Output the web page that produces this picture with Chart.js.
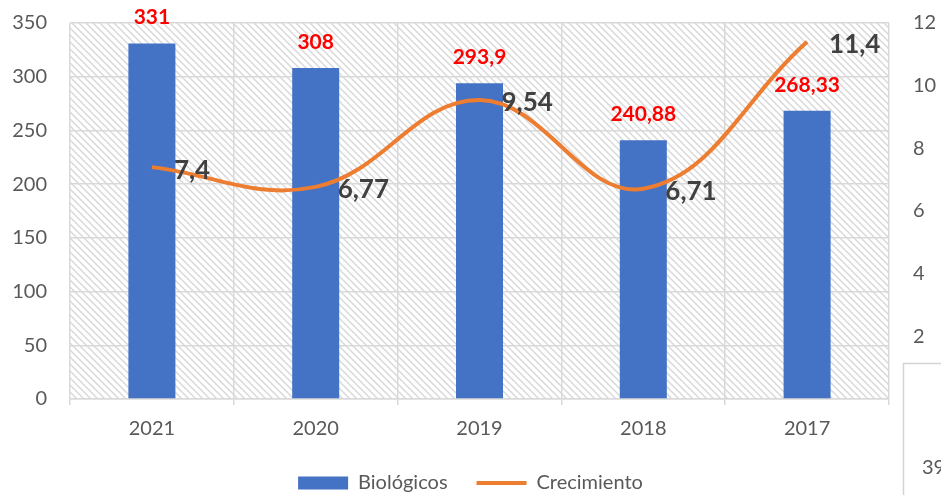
<!DOCTYPE html>
<html>
<head>
<meta charset="utf-8">
<script src="https://cdn.jsdelivr.net/npm/chart.js@4.4.1/dist/chart.umd.min.js"></script>
<style>
  html, body { margin: 0; padding: 0; background: #fff; }
  #wrap { width: 941px; height: 495px; position: relative; }
</style>
</head>
<body>
<div id="wrap"><canvas id="chart_biologicos"></canvas></div>
<script>
var years = ['2021', '2020', '2019', '2018', '2017'];
var biologicos = [331, 308, 293.9, 240.88, 268.33];
var crecimiento = [7.4, 6.77, 9.54, 6.71, 11.4];
var leftTicks = [0, 50, 100, 150, 200, 250, 300, 350];
var rightTicks = [0, 2, 4, 6, 8, 10, 12];

var gridGray = '#d9d9d9';
var textGray = '#595959';
var clear = 'rgba(0,0,0,0)';

function hatchPattern() {
  var s = 7;
  var c = document.createElement('canvas');
  c.width = s; c.height = s;
  var g = c.getContext('2d');
  g.fillStyle = '#ffffff';
  g.fillRect(0, 0, s, s);
  g.strokeStyle = '#d9d9d9';
  g.lineWidth = 1.5;
  g.beginPath();
  g.moveTo(-1, -1); g.lineTo(s + 1, s + 1);
  g.moveTo(s - 2, -2); g.lineTo(s + 2, 2);
  g.moveTo(-2, s - 2); g.lineTo(2, s + 2);
  g.stroke();
  return g.createPattern(c, 'repeat');
}

function fmt(v) {
  return String(v).replace('.', ',');
}

var chart_biologicos = new Chart(document.getElementById('chart_biologicos'), {
  type: 'bar',
  data: {
    labels: years,
    datasets: [
      {
        type: 'bar',
        label: 'Biológicos',
        data: biologicos,
        backgroundColor: '#4472c4',
        borderWidth: 0,
        yAxisID: 'y',
        order: 1,
        categoryPercentage: 1,
        barPercentage: 0.287
      },
      {
        type: 'line',
        label: 'Crecimiento',
        data: crecimiento,
        borderColor: '#ed7d31',
        backgroundColor: '#ed7d31',
        borderWidth: 4,
        tension: 0.4,
        pointRadius: 0,
        fill: false,
        yAxisID: 'y1',
        order: 0
      }
    ]
  },
  options: {
    animation: false,
    responsive: true,
    maintainAspectRatio: false,
    layout: { padding: { top: 23, left: 0, right: 0, bottom: -8 } },
    plugins: {
      tooltip: { enabled: false },
      legend: {
        position: 'bottom',
        labels: {
          color: textGray,
          font: { family: 'Lato', size: 20 },
          usePointStyle: true,
          pointStyleWidth: 50,
          boxHeight: 13,
          padding: 29,
          sort: function (a, b) { return a.datasetIndex - b.datasetIndex; },
          generateLabels: function (chart) {
            var items = Chart.defaults.plugins.legend.labels.generateLabels(chart);
            items.forEach(function (it) {
              if (it.datasetIndex === 0) {
                it.pointStyle = 'rect';
                it.lineWidth = 0;
                it.strokeStyle = clear;
              } else {
                it.pointStyle = 'line';
                it.lineWidth = 4;
                it.strokeStyle = '#ed7d31';
              }
            });
            return items;
          }
        }
      }
    },
    scales: {
      x: {
        offset: true,
        grid: { offset: true, color: gridGray, lineWidth: 1.5, tickLength: 6, drawTicks: true },
        border: { display: true, color: gridGray, width: 1.5 },
        ticks: { color: textGray, font: { family: 'Lato', size: 20 }, padding: 12 },
        afterFit: function (scale) { scale.height = 45; }
      },
      y: {
        position: 'left',
        min: 0,
        max: 350,
        afterBuildTicks: function (scale) {
          scale.ticks = leftTicks.map(function (v) { return { value: v }; });
        },
        grid: { color: gridGray, lineWidth: 1.5, drawTicks: true, tickLength: 21, tickColor: clear },
        border: { display: false },
        ticks: { color: textGray, font: { family: 'Lato', size: 20 }, padding: 2 },
        afterFit: function (scale) { scale.width = 70; }
      },
      y1: {
        position: 'right',
        min: 0,
        max: 12,
        afterBuildTicks: function (scale) {
          scale.ticks = rightTicks.map(function (v) { return { value: v }; });
        },
        grid: { display: true, drawOnChartArea: false, color: clear, tickColor: clear, drawTicks: true, tickLength: 22 },
        border: { display: false },
        ticks: { color: textGray, font: { family: 'Lato', size: 20 }, padding: 2 },
        afterFit: function (scale) { scale.width = 52; }
      }
    }
  },
  plugins: [{
    id: 'hatchArea',
    beforeDraw: function (chart) {
      var a = chart.chartArea;
      var ctx = chart.ctx;
      ctx.save();
      ctx.fillStyle = '#ffffff';
      ctx.fillRect(0, 0, chart.width, chart.height);
      ctx.fillStyle = hatchPattern();
      ctx.fillRect(a.left, a.top, a.right - a.left, a.bottom - a.top);
      ctx.restore();
    }
  }, {
    id: 'valueLabels',
    afterDatasetsDraw: function (chart) {
      var ctx = chart.ctx;
      ctx.save();
      var bars = chart.getDatasetMeta(0).data;
      ctx.font = 'bold 21px Lato';
      ctx.fillStyle = '#ff0000';
      ctx.textAlign = 'center';
      ctx.textBaseline = 'middle';
      bars.forEach(function (el, i) {
        ctx.fillText(fmt(biologicos[i]), el.x, el.y - 26);
      });
      var pts = chart.getDatasetMeta(1).data;
      ctx.font = 'bold 26px Lato';
      ctx.fillStyle = '#404040';
      ctx.textAlign = 'left';
      pts.forEach(function (el, i) {
        ctx.fillText(fmt(crecimiento[i]), el.x + 22, el.y + 3);
      });
      ctx.restore();
    }
  }, {
    id: 'sideBox',
    afterDraw: function (chart) {
      var ctx = chart.ctx;
      ctx.save();
      ctx.fillStyle = '#ffffff';
      ctx.fillRect(903, 363, 60, 140);
      ctx.strokeStyle = '#d4d4d4';
      ctx.lineWidth = 1.5;
      ctx.beginPath();
      ctx.moveTo(903.5, 500);
      ctx.lineTo(903.5, 363.5);
      ctx.lineTo(945, 363.5);
      ctx.stroke();
      ctx.font = '20px Lato';
      ctx.fillStyle = textGray;
      ctx.textAlign = 'left';
      ctx.textBaseline = 'middle';
      ctx.fillText('39', 922, 468);
      ctx.restore();
    }
  }]
});
</script>
</body>
</html>
